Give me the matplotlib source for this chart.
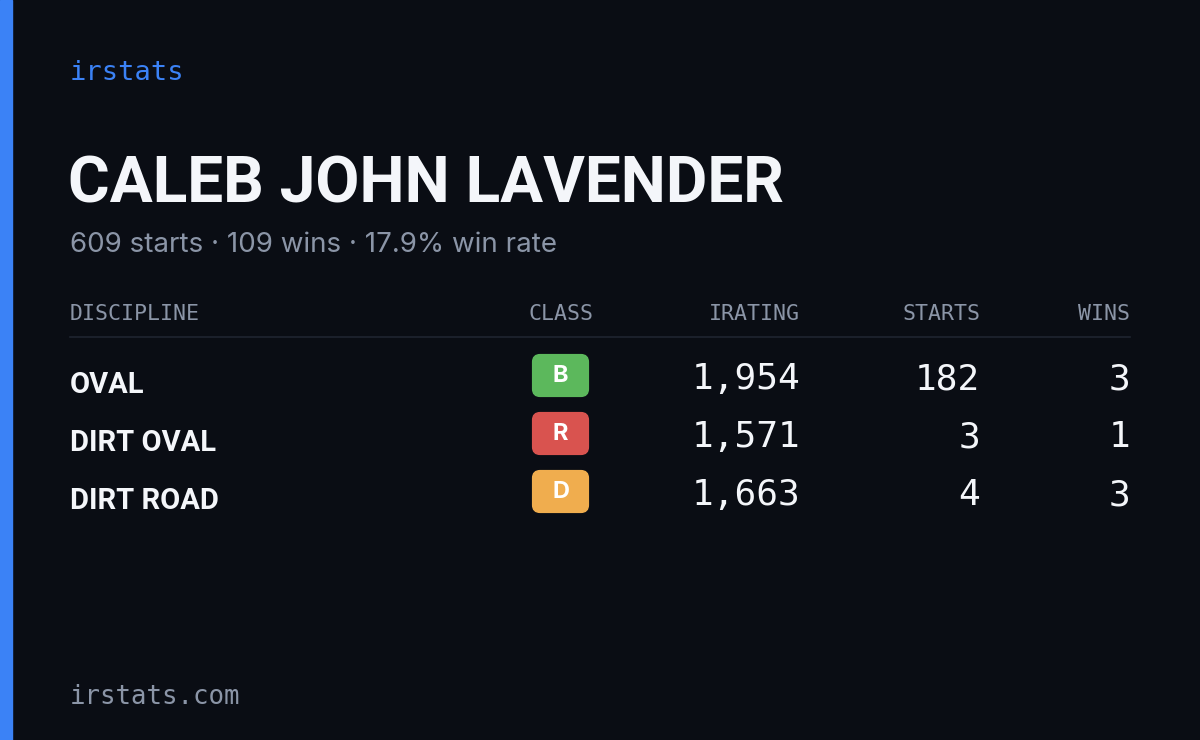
import matplotlib
matplotlib.use("Agg")
import matplotlib.pyplot as plt
from matplotlib.patches import FancyBboxPatch, Rectangle

brand = "irstats"
driver = "CALEB JOHN LAVENDER"
summary = "609 starts · 109 wins · 17.9% win rate"
headers = ["DISCIPLINE", "CLASS", "IRATING", "STARTS", "WINS"]
disciplines = ["OVAL", "DIRT OVAL", "DIRT ROAD"]
classes = ["B", "R", "D"]
class_colors = ["#5cb85c", "#d9534f", "#f0ad4e"]
iratings = [1954, 1571, 1663]
starts = [182, 3, 4]
wins = [3, 1, 3]
footer = "irstats.com"

W, H = 1200, 740
fig = plt.figure(figsize=(12, 7.4), dpi=100)
fig.patch.set_facecolor("#0a0d14")
ax = fig.add_axes([0, 0, 1, 1])
ax.set_xlim(0, W); ax.set_ylim(H, 0); ax.axis("off")
ax.set_facecolor("#0a0d14")
ax.add_patch(Rectangle((0, 0), 12, H, color="#3b82f6"))

cond = ["Roboto", "DejaVu Sans"]
mono = "DejaVu Sans Mono"
gray = "#8b95a7"

ax.text(70, 73, brand, family=mono, fontsize=19.5, color="#3b82f6", va="center")
ax.text(68, 185, driver, family=cond, fontweight="bold", fontsize=46, color="#f4f6fa",
        va="center", fontstretch="condensed")
ax.text(70, 245, summary, family="Inter", fontsize=20, color=gray, va="center")

hx = [70, 593, 800, 980, 1130]
ha = ["left", "right", "right", "right", "right"]
for t, x, a in zip(headers, hx, ha):
    ax.text(x, 314, t, family=mono, fontsize=15.5, color=gray, ha=a, va="center")
ax.plot([70, 1130], [337, 337], color="#1f2530", lw=1.2)

for i, (d, c, col, r, s, w) in enumerate(zip(disciplines, classes, class_colors, iratings, starts, wins)):
    y = 379 + 58 * i
    ax.text(70, y + 6, d, family=cond, fontweight="bold", fontsize=21, color="#f4f6fa", va="center")
    ax.add_patch(FancyBboxPatch((534, y - 23), 53, 39, boxstyle="round,pad=0,rounding_size=6",
                                facecolor=col, edgecolor=col, lw=3))
    ax.text(560.5, y - 3.5, c, family="Inter", fontweight="bold", fontsize=17, color="white",
            ha="center", va="center")
    for v, x in zip([f"{r:,}", str(s), str(w)], [800, 980, 1130]):
        ax.text(x, y, v, family=mono, fontsize=26, color="#f4f6fa", ha="right", va="center")

ax.text(70, 697, footer, family=mono, fontsize=18.5, color=gray, va="center")
fig.savefig("out.png", dpi=100, facecolor=fig.get_facecolor())
